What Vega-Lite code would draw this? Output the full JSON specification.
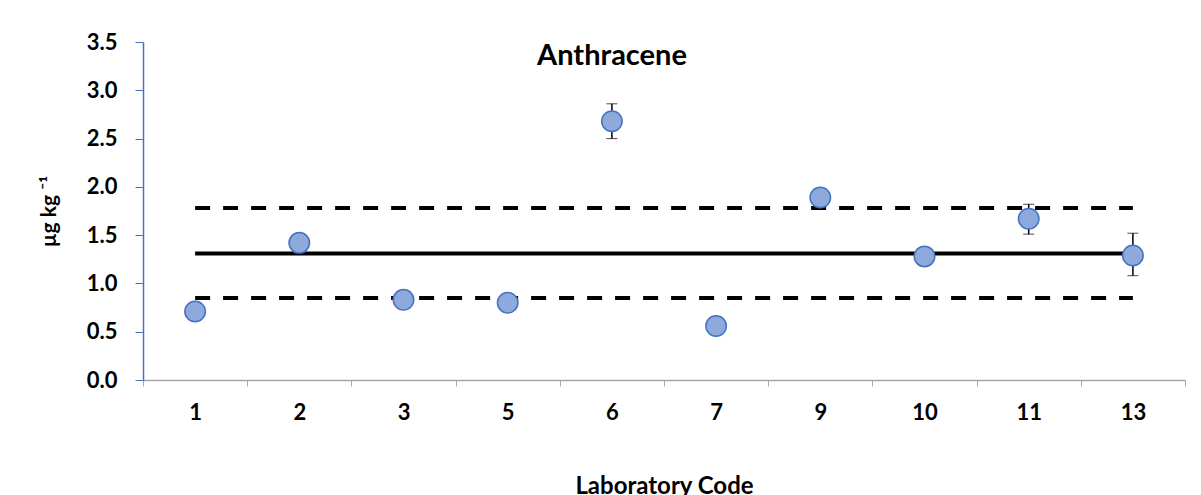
{
  "$schema": "https://vega.github.io/schema/vega-lite/v6.json",
  "autosize": "none",
  "width": 1042,
  "height": 338,
  "padding": {"left": 143, "top": 42, "right": 16, "bottom": 115},
  "background": "white",
  "datasets": {
    "labs": [
      {"lab": "1", "value": 0.71},
      {"lab": "2", "value": 1.42},
      {"lab": "3", "value": 0.83},
      {"lab": "5", "value": 0.80},
      {"lab": "6", "value": 2.68, "lo": 2.50, "hi": 2.86},
      {"lab": "7", "value": 0.56},
      {"lab": "9", "value": 1.89},
      {"lab": "10", "value": 1.28},
      {"lab": "11", "value": 1.67, "lo": 1.51, "hi": 1.82},
      {"lab": "13", "value": 1.29, "lo": 1.08, "hi": 1.52}
    ],
    "limits": [
      {"level": "upper", "v": 1.78, "from": "1", "to": "13"},
      {"level": "assigned", "v": 1.31, "from": "1", "to": "13"},
      {"level": "lower", "v": 0.85, "from": "1", "to": "13"}
    ]
  },
  "title": {
    "text": "Anthracene",
    "anchor": "middle",
    "dx": -52,
    "offset": -40,
    "font": "Lato",
    "fontSize": 29,
    "fontWeight": "bold",
    "color": "black"
  },
  "config": {
    "view": {"stroke": null},
    "font": "Lato"
  },
  "layer": [
    {
      "data": {"name": "limits"},
      "mark": {"type": "rule", "color": "black", "strokeWidth": 4},
      "encoding": {
        "x": {"field": "from", "type": "ordinal"},
        "x2": {"field": "to"},
        "y": {"field": "v", "type": "quantitative", "title": "µg kg ⁻¹"},
        "strokeDash": {
          "field": "level",
          "type": "nominal",
          "scale": {"domain": ["upper", "assigned", "lower"], "range": [[15, 13], [1, 0], [15, 13]]},
          "legend": null
        }
      }
    },
    {
      "data": {"name": "labs"},
      "transform": [{"filter": "isValid(datum.lo)"}],
      "mark": {"type": "errorbar", "ticks": {"size": 11, "color": "black", "strokeWidth": 1.5}, "rule": {"color": "black", "strokeWidth": 1.5}},
      "encoding": {
        "x": {"field": "lab", "type": "ordinal"},
        "y": {"field": "lo", "type": "quantitative", "title": "µg kg ⁻¹"},
        "y2": {"field": "hi"}
      }
    },
    {
      "data": {"name": "labs"},
      "mark": {"type": "point", "filled": true, "size": 420, "fill": "#8EA9DB", "stroke": "#4472C4", "strokeWidth": 1.5, "opacity": 1},
      "encoding": {
        "x": {
          "field": "lab",
          "type": "ordinal",
          "sort": null,
          "scale": {"type": "band", "domain": ["1", "2", "3", "5", "6", "7", "9", "10", "11", "13"], "paddingInner": 0, "paddingOuter": 0},
          "axis": {
            "title": "Laboratory Code",
            "titleFont": "Lato",
            "titleFontSize": 24,
            "titleFontWeight": "bold",
            "titleColor": "black",
            "titlePadding": 51,
            "labelAngle": 0,
            "labelAlign": "center",
            "labelFont": "Lato",
            "labelFontSize": 22,
            "labelFontWeight": "bold",
            "labelColor": "black",
            "labelPadding": 26,
            "domainColor": "#a6a6a6",
            "domainWidth": 1.5,
            "tickColor": "#a6a6a6",
            "tickSize": 6,
            "tickBand": "extent",
            "grid": false
          }
        },
        "y": {
          "field": "value",
          "type": "quantitative",
          "title": "µg kg ⁻¹",
          "scale": {"domain": [0, 3.5], "nice": false},
          "axis": {
            "titleFont": "Lato",
            "titleFontSize": 21,
            "titleFontWeight": "bold",
            "titleColor": "black",
            "titlePadding": 27,
            "values": [0, 0.5, 1, 1.5, 2, 2.5, 3, 3.5],
            "format": ".1f",
            "labelFont": "Lato",
            "labelFontSize": 22,
            "labelFontWeight": "bold",
            "labelColor": "black",
            "labelPadding": 18,
            "domainColor": "#4472C4",
            "domainWidth": 1.5,
            "tickColor": "#4472C4",
            "tickSize": 8,
            "grid": false
          }
        }
      }
    }
  ]
}
